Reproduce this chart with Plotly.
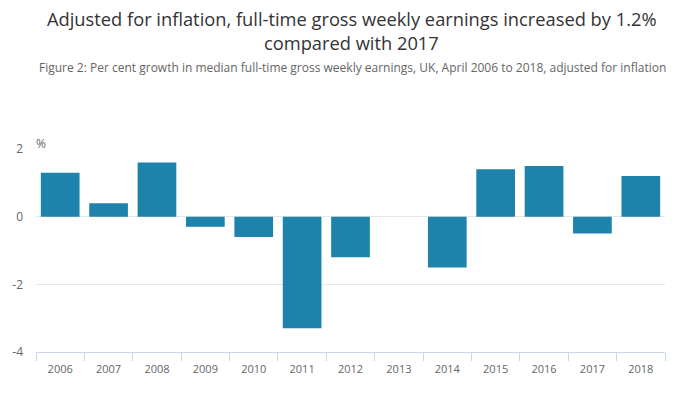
import plotly.graph_objects as go

years = ["2006", "2007", "2008", "2009", "2010", "2011", "2012",
         "2013", "2014", "2015", "2016", "2017", "2018"]
growth = [1.3, 0.4, 1.6, -0.3, -0.6, -3.3, -1.2, 0.0, -1.5, 1.4, 1.5, -0.5, 1.2]
y_ticks = [-4, -2, 0, 2]
y_tick_labels = ["-4", "-2", "0", "2"]

title_line1 = "Adjusted for inflation, full-time gross weekly earnings increased by 1.2%"
title_line2 = "compared with 2017"
subtitle_text = "Figure 2: Per cent growth in median full-time gross weekly earnings, UK, April 2006 to 2018, adjusted for inflation"

FONT = "Open Sans"
W, H = 700, 393
ML, MR, MT, MB = 34, 35, 149, 41
plot_w = W - ML - MR
plot_h = H - MT - MB

def px_x(pix):
    return (pix - ML) / plot_w

def px_y(pix):
    return (H - MB - pix) / plot_h

fig = go.Figure()
fig.add_trace(go.Bar(
    x=years, y=growth,
    marker=dict(color="#1d83aa", line=dict(width=0)),
    hoverinfo="x+y",
))

fig.update_layout(
    width=W, height=H,
    margin=dict(l=ML, r=MR, t=MT, b=MB),
    paper_bgcolor="white", plot_bgcolor="white",
    font=dict(family=FONT, color="#666666", size=12),
    bargap=0.2,
    showlegend=False,
    annotations=[
        dict(text=title_line1, x=px_x(351), xref="paper", xanchor="center",
             y=px_y(18), yref="paper", yanchor="middle", showarrow=False,
             borderpad=0,
             font=dict(family=FONT, size=18.3, color="#333333")),
        dict(text=title_line2, x=px_x(351), xref="paper", xanchor="center",
             y=px_y(42), yref="paper", yanchor="middle", showarrow=False,
             borderpad=0,
             font=dict(family=FONT, size=18.3, color="#333333")),
        dict(text=subtitle_text, x=px_x(352), xref="paper", xanchor="center",
             y=px_y(67), yref="paper", yanchor="middle", showarrow=False,
             borderpad=0,
             font=dict(family=FONT, size=12, color="#666666")),
        dict(text="%", x=0, xref="paper", xanchor="left", xshift=-2,
             y=1.0, yref="paper", yanchor="bottom", yshift=-5, showarrow=False,
             font=dict(family=FONT, size=12, color="#666666")),
    ],
)

fig.update_xaxes(
    type="category",
    showgrid=False,
    showline=True, linecolor="#ccd6eb", linewidth=1,
    ticks="outside", tickson="boundaries", ticklen=8, tickcolor="#ccd6eb",
    ticklabelstandoff=7,
    tickfont=dict(family=FONT, size=11, color="#666666"),
    zeroline=False,
)
fig.update_yaxes(
    range=[-4, 2],
    tickvals=y_ticks, ticktext=y_tick_labels,
    showgrid=True, gridcolor="#e6e6e6", gridwidth=1,
    zeroline=True, zerolinecolor="#e6e6e6", zerolinewidth=1,
    showline=False, ticks="",
    ticklabelstandoff=12,
    tickfont=dict(family=FONT, size=12, color="#666666"),
)

fig.write_html(
    "out.html",
    config={"displayModeBar": False},
    post_script="document.body.style.margin='0';document.body.style.overflow='hidden';",
)
